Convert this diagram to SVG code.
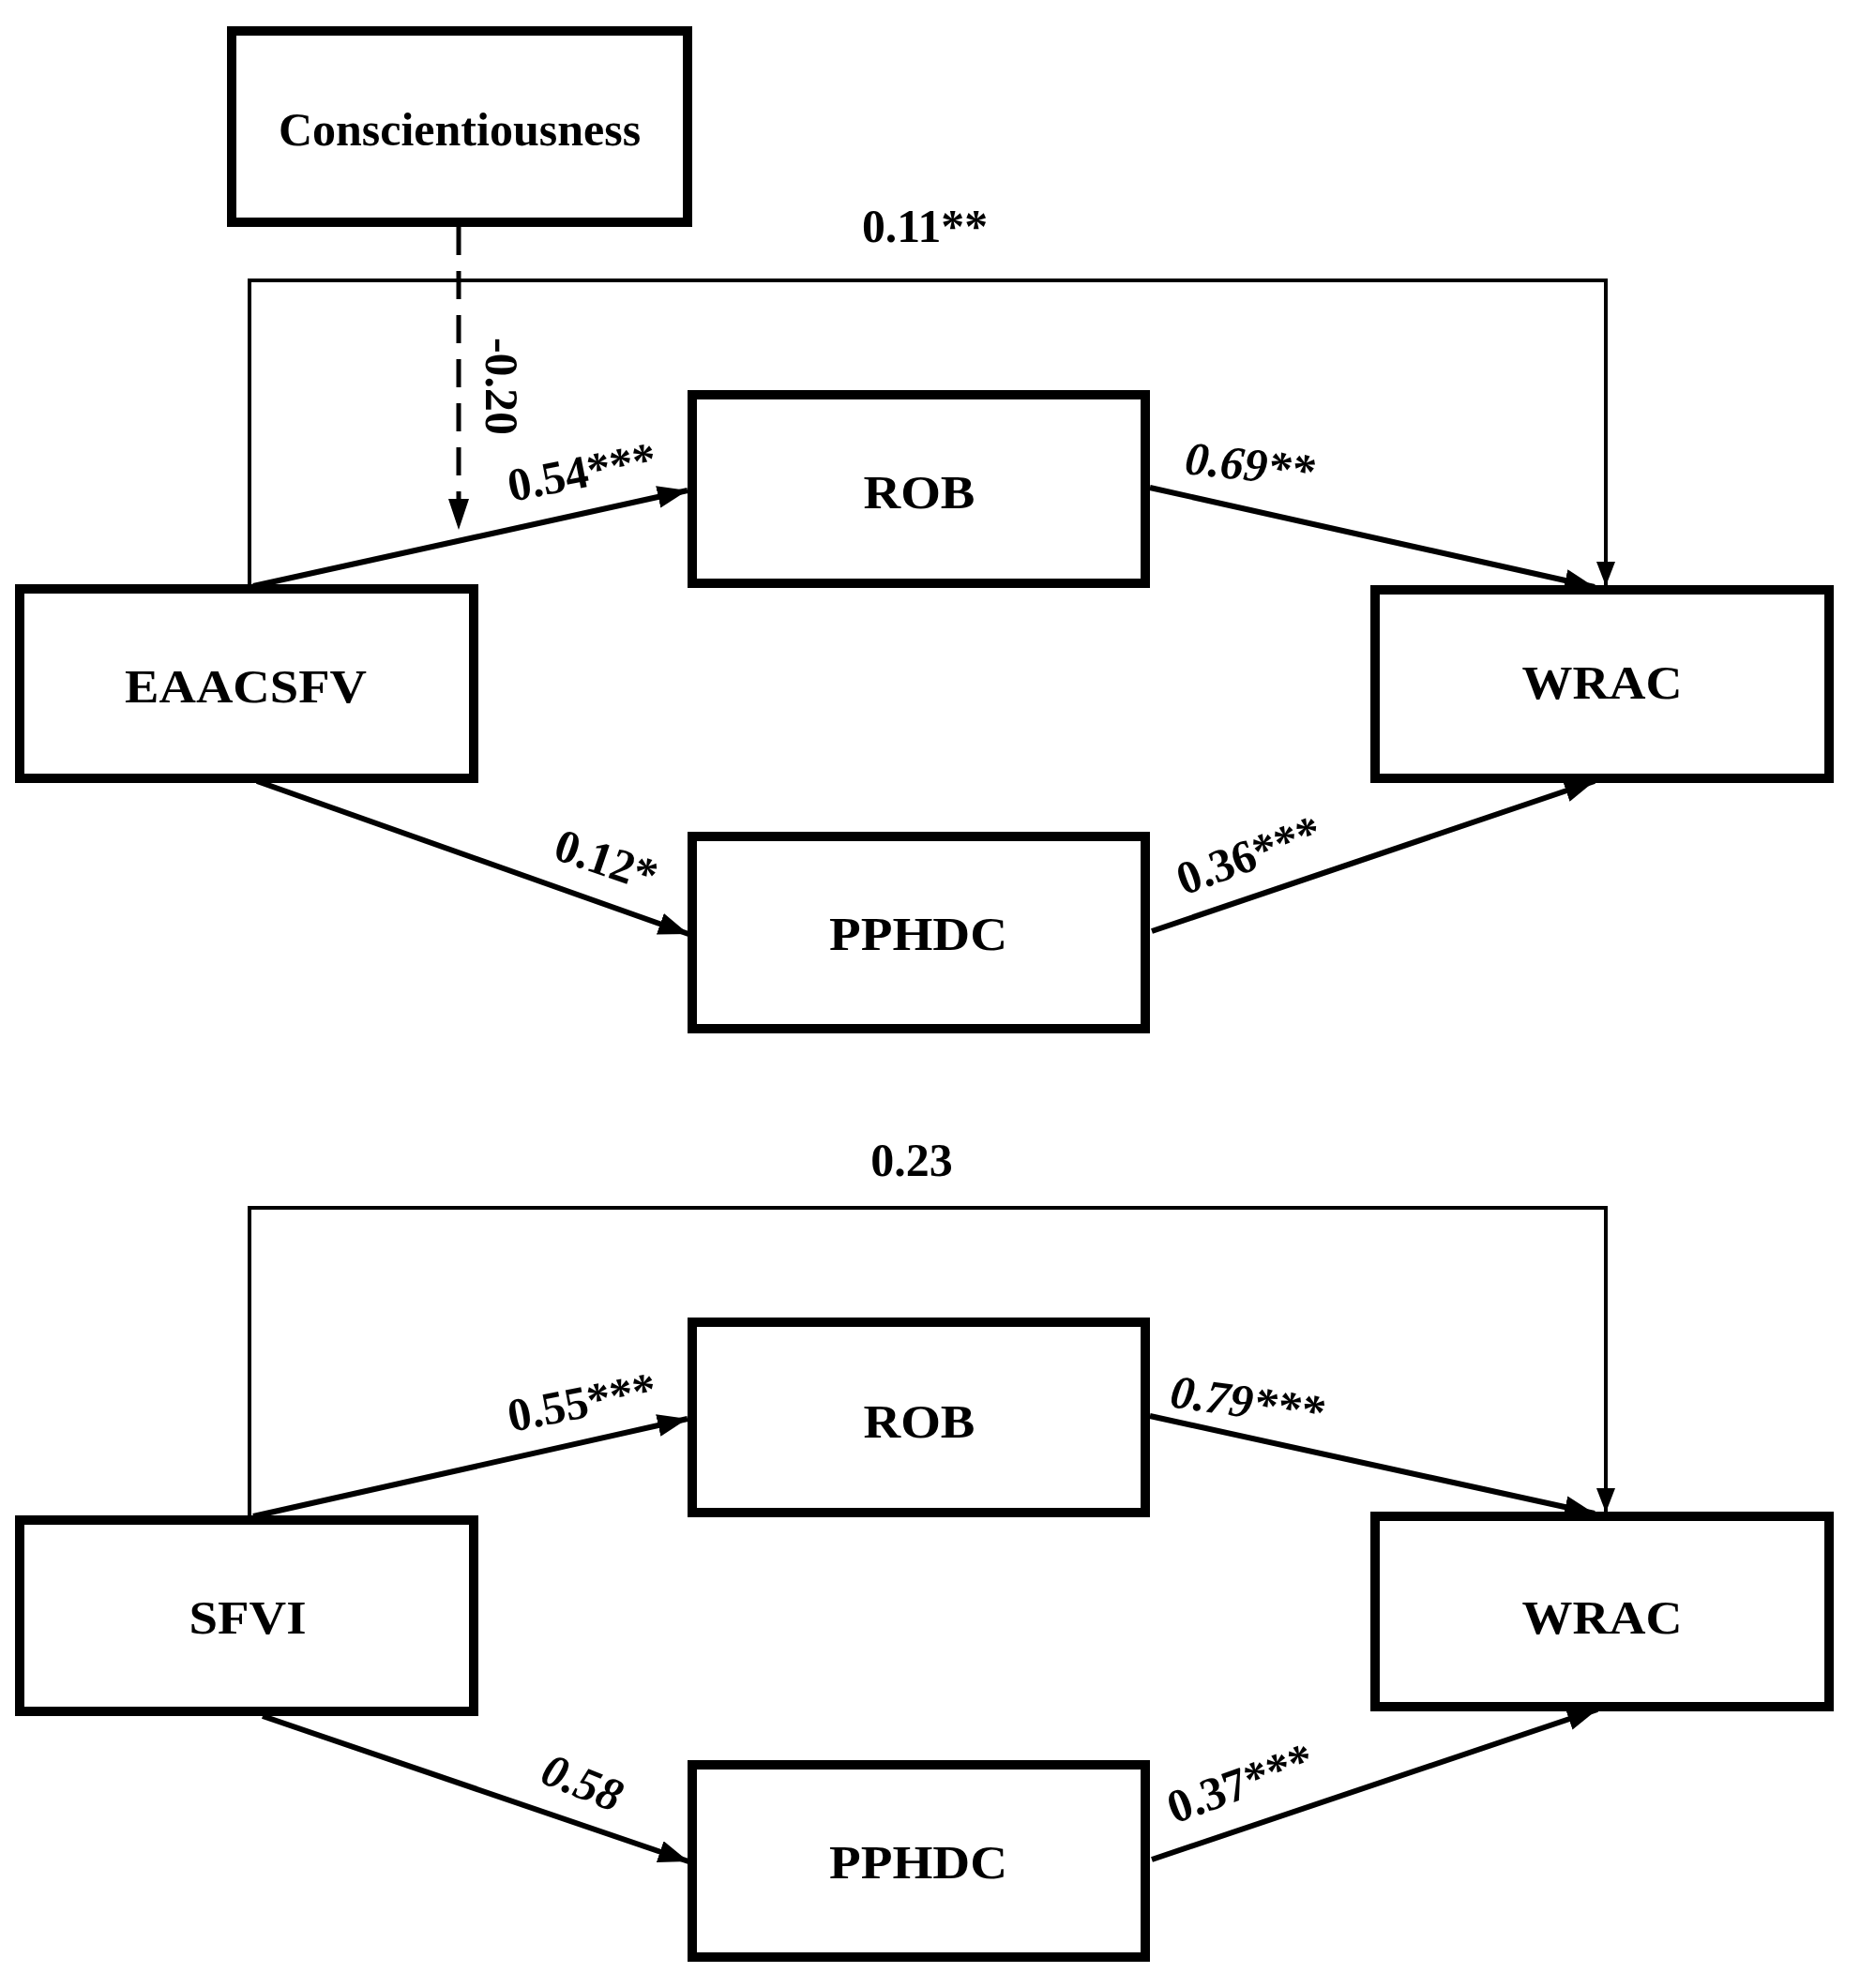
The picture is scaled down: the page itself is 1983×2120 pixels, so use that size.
<svg xmlns="http://www.w3.org/2000/svg" width="1983" height="2120" viewBox="0 0 1983 2120">
<defs>
<style>
.box{fill:#fff;stroke:#000;stroke-width:10}
.nt{font-family:"Liberation Serif","Times New Roman",serif;font-weight:bold;font-size:50px;fill:#000;text-anchor:middle}
.el{font-family:"Liberation Serif","Times New Roman",serif;font-weight:bold;font-size:50px;fill:#000}
.arr{fill:none;stroke:#000;stroke-width:6}
.dir{fill:none;stroke:#000;stroke-width:4}
.dash{fill:none;stroke:#000;stroke-width:5;stroke-dasharray:30 17}
</style>
<marker id="ah" markerUnits="userSpaceOnUse" markerWidth="34" markerHeight="24" refX="32" refY="12" orient="auto"><path d="M0,0 L32,12 L0,24 z" fill="#000"/></marker>
<marker id="ahs" markerUnits="userSpaceOnUse" markerWidth="28" markerHeight="20" refX="26" refY="10" orient="auto"><path d="M0,0 L26,10 L0,20 z" fill="#000"/></marker>
</defs>
<rect width="1983" height="2120" fill="#fff"/>

<g id="n-conscientiousness"><rect class="box" x="247" y="33" width="486" height="204"/><text class="nt" x="490" y="155">Conscientiousness</text></g>
<g id="n-eaacsfv"><rect class="box" x="21" y="628" width="484" height="202"/><text class="nt" x="262" y="749" textLength="258" lengthAdjust="spacingAndGlyphs">EAACSFV</text></g>
<g id="n-rob1"><rect class="box" x="738" y="421" width="483" height="201"/><text class="nt" x="980" y="542" textLength="119" lengthAdjust="spacingAndGlyphs">ROB</text></g>
<g id="n-wrac1"><rect class="box" x="1466" y="629" width="484" height="201"/><text class="nt" x="1708" y="745" textLength="171" lengthAdjust="spacingAndGlyphs">WRAC</text></g>
<g id="n-pphdc1"><rect class="box" x="738" y="892" width="483" height="205"/><text class="nt" x="979" y="1013" textLength="190" lengthAdjust="spacingAndGlyphs">PPHDC</text></g>

<g id="n-rob2"><rect class="box" x="738" y="1410" width="483" height="203"/><text class="nt" x="980" y="1533" textLength="119" lengthAdjust="spacingAndGlyphs">ROB</text></g>
<g id="n-sfvi"><rect class="box" x="21" y="1621" width="484" height="204"/><text class="nt" x="264" y="1742" textLength="125" lengthAdjust="spacingAndGlyphs">SFVI</text></g>
<g id="n-wrac2"><rect class="box" x="1466" y="1617" width="484" height="203"/><text class="nt" x="1708" y="1742" textLength="171" lengthAdjust="spacingAndGlyphs">WRAC</text></g>
<g id="n-pphdc2"><rect class="box" x="738" y="1882" width="483" height="205"/><text class="nt" x="979" y="2003" textLength="190" lengthAdjust="spacingAndGlyphs">PPHDC</text></g>

<g id="connectors">
<path class="dash" d="M489,242 V535"/>
<path d="M478,532 L489,565 L500,532 z" fill="#000"/>
<path class="dir" d="M266,625 V299 H1712 V625" marker-end="url(#ahs)"/>
<path class="arr" d="M270,625 L733,523" marker-end="url(#ah)"/>
<path class="arr" d="M274,833 L734,996" marker-end="url(#ah)"/>
<path class="arr" d="M1226,520 L1700,626" marker-end="url(#ah)"/>
<path class="arr" d="M1228,993 L1700,833" marker-end="url(#ah)"/>

<path class="dir" d="M266,1617 V1288 H1712 V1613" marker-end="url(#ahs)"/>
<path class="arr" d="M270,1617 L733,1513" marker-end="url(#ah)"/>
<path class="arr" d="M280,1830 L734,1985" marker-end="url(#ah)"/>
<path class="arr" d="M1226,1510 L1700,1614" marker-end="url(#ah)"/>
<path class="arr" d="M1228,1983 L1703,1823" marker-end="url(#ah)"/>
</g>

<g id="edge-labels">
<text class="el" x="986" y="258" text-anchor="middle" textLength="134" lengthAdjust="spacingAndGlyphs">0.11**</text>
<text class="el" transform="translate(518,412) rotate(90)" text-anchor="middle" font-size="48">-0.20</text>
<text class="el" transform="translate(545,535) rotate(-11)" textLength="160" lengthAdjust="spacingAndGlyphs">0.54***</text>
<text class="el" transform="translate(1262,505) rotate(6)" font-style="italic" textLength="138" lengthAdjust="spacingAndGlyphs">0.69**</text>
<text class="el" transform="translate(588,915) rotate(19)" textLength="112" lengthAdjust="spacingAndGlyphs">0.12*</text>
<text class="el" transform="translate(1262,955) rotate(-20)" textLength="160" lengthAdjust="spacingAndGlyphs">0.36***</text>

<text class="el" x="972" y="1254" text-anchor="middle">0.23</text>
<text class="el" transform="translate(545,1527) rotate(-11)" textLength="160" lengthAdjust="spacingAndGlyphs">0.55***</text>
<text class="el" transform="translate(1246,1500) rotate(8)" font-style="italic" textLength="164" lengthAdjust="spacingAndGlyphs">0.79***</text>
<text class="el" transform="translate(574,1900) rotate(22)" font-size="56" font-style="italic">0.58</text>
<text class="el" transform="translate(1252,1945) rotate(-20)" textLength="162" lengthAdjust="spacingAndGlyphs">0.37***</text>
</g>
</svg>
